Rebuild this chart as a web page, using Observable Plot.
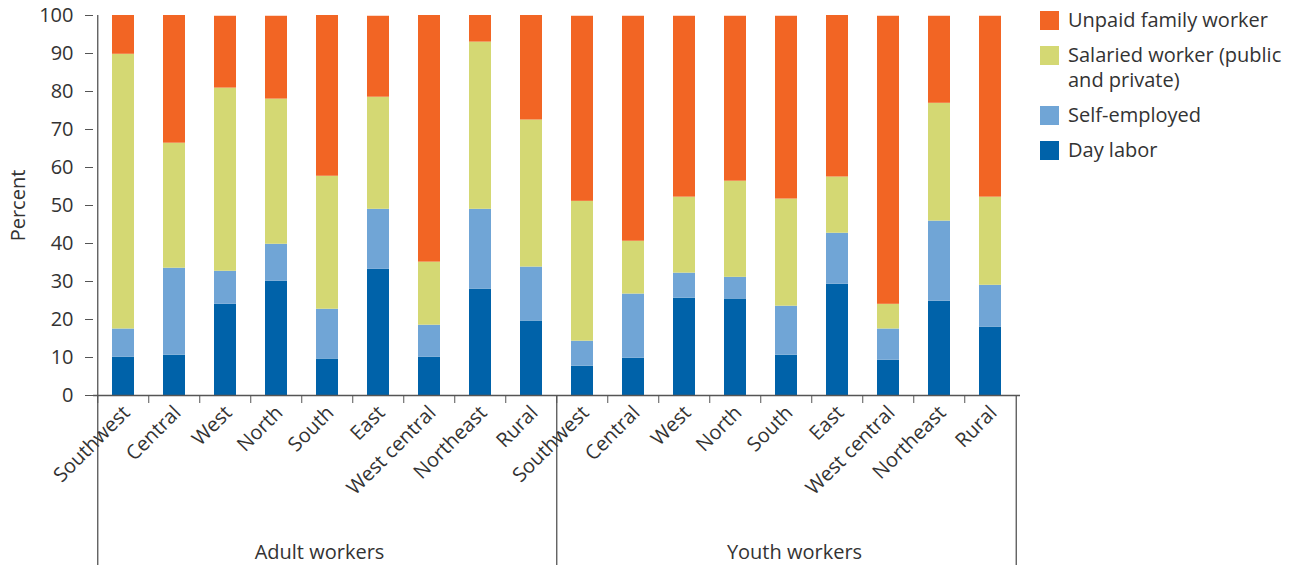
<!DOCTYPE html>
<html>
<head>
<meta charset="utf-8">
<script src="https://cdn.jsdelivr.net/npm/d3@7"></script>
<script src="https://cdn.jsdelivr.net/npm/@observablehq/plot@0.6"></script>
<style>
  body { margin: 0; background: #fff; font-family: "Open Sans", sans-serif; }
  #wrap { position: relative; width: 1294px; height: 565px; }
  #legend { position: absolute; left: 1040px; top: 7px; font-size: 20px; color: #333; }
  .item { display: flex; align-items: flex-start; margin-bottom: 10px; line-height: 25px; }
  .sw { width: 19px; height: 19px; margin-right: 9px; margin-top: 4px; flex: none; }
</style>
</head>
<body>
<div id="wrap"><div id="chart"></div><div id="legend"></div></div>
<script>
const groups = ["Adult workers", "Youth workers"];
const regions = ["Southwest", "Central", "West", "North", "South", "East", "West central", "Northeast", "Rural"];
const types = ["Day labor", "Self-employed", "Salaried worker (public and private)", "Unpaid family worker"];
const colors = ["#0062a9", "#70a5d6", "#d4d873", "#f26524"];

// values per region (order of regions), per type
const adultDayLabor  = [10.1, 10.6, 24.0, 30.1,  9.6, 33.2, 10.1, 28.0, 19.6];
const adultSelf      = [ 7.4, 22.9,  8.7,  9.7, 13.1, 15.8,  8.4, 21.0, 14.2];
const adultSalaried  = [72.3, 32.9, 48.2, 38.2, 35.0, 29.5, 16.6, 44.0, 38.7];
const adultUnpaid    = [10.2, 33.6, 18.9, 21.8, 42.3, 21.3, 64.9,  7.0, 27.5];

const youthDayLabor  = [ 7.7,  9.8, 25.6, 25.4, 10.6, 29.3,  9.3, 24.8, 18.0];
const youthSelf      = [ 6.6, 16.9,  6.6,  5.7, 12.9, 13.4,  8.2, 21.1, 11.0];
const youthSalaried  = [36.8, 13.9, 20.0, 25.3, 28.2, 14.8,  6.5, 31.0, 23.2];
const youthUnpaid    = [48.7, 59.2, 47.6, 43.4, 48.1, 42.5, 75.8, 22.9, 47.6];

const series = {
  "Adult workers": [adultDayLabor, adultSelf, adultSalaried, adultUnpaid],
  "Youth workers": [youthDayLabor, youthSelf, youthSalaried, youthUnpaid]
};

const keys = groups.flatMap(g => regions.map(r => g + "|" + r));
const data = [];
types.forEach((t, ti) => {
  groups.forEach(g => {
    regions.forEach((r, ri) => {
      data.push({key: g + "|" + r, type: t, value: series[g][ti][ri]});
    });
  });
});

const width = 1030, height = 565;
const marginLeft = 93, marginRight = 10, marginTop = 15, marginBottom = 170;
const step = (width - marginLeft - marginRight) / keys.length;
const font = "Open Sans, sans-serif";
const ink = "#333";
const lineColor = "#555";
const fs = 20;

const chart = Plot.plot({
  width, height, marginLeft, marginRight, marginTop, marginBottom,
  style: {fontFamily: font, fontSize: fs + "px", color: ink, background: "#fff"},
  x: {domain: keys, paddingInner: 0.57, paddingOuter: 0.285, axis: null},
  y: {domain: [0, 100], axis: null},
  color: {domain: types, range: colors},
  marks: [
    Plot.barY(data, {x: "key", y: "value", fill: "type", order: types}),
    Plot.axisY({ticks: d3.range(0, 101, 10), tickSize: 8, tickPadding: 12, label: "Percent",
      labelAnchor: "center", labelArrow: "none", labelOffset: 83, stroke: lineColor, fill: ink, fontSize: fs}),
    Plot.ruleY([0], {stroke: lineColor, strokeWidth: 1.3}),
    // boundary ticks
    Plot.ruleX(keys, {x: d => d, dx: -step / 2, insetTop: height - marginTop - marginBottom, insetBottom: -8, stroke: lineColor}),
    // group separators
    Plot.ruleX([keys[0]], {x: d => d, dx: -step / 2, insetBottom: -marginBottom, stroke: lineColor, strokeWidth: 1.3}),
    Plot.ruleX([keys[9]], {x: d => d, dx: -step / 2, insetTop: height - marginTop - marginBottom, insetBottom: -marginBottom, stroke: lineColor, strokeWidth: 1.3}),
    Plot.ruleX([keys[17]], {x: d => d, dx: step / 2, insetTop: height - marginTop - marginBottom, insetBottom: -marginBottom, stroke: lineColor, strokeWidth: 1.3}),
    // rotated region labels
    Plot.axisX({tickSize: 0, tickRotate: -45, tickPadding: 6, dx: 3, dy: 8, tickFormat: d => d.split("|")[1], label: null, fill: ink, fontSize: fs}),
    // group labels
    Plot.text([groups[0]], {x: g => g + "|South", text: d => d, frameAnchor: "bottom", lineAnchor: "middle", dy: 157, dx: -8, fill: ink, fontSize: fs, textAnchor: "middle"}),
    Plot.text([groups[1]], {x: g => g + "|South", text: d => d, frameAnchor: "bottom", lineAnchor: "middle", dy: 157, dx: 8, fill: ink, fontSize: fs, textAnchor: "middle"})
  ]
});
document.getElementById("chart").appendChild(chart);

const legendOrder = [3, 2, 1, 0];
const legend = document.getElementById("legend");
legendOrder.forEach(i => {
  const item = document.createElement("div");
  item.className = "item";
  const sw = document.createElement("div");
  sw.className = "sw";
  sw.style.background = colors[i];
  const label = document.createElement("div");
  label.innerHTML = i === 2 ? "Salaried worker (public<br>and private)" : types[i];
  item.appendChild(sw);
  item.appendChild(label);
  legend.appendChild(item);
});
</script>
</body>
</html>
